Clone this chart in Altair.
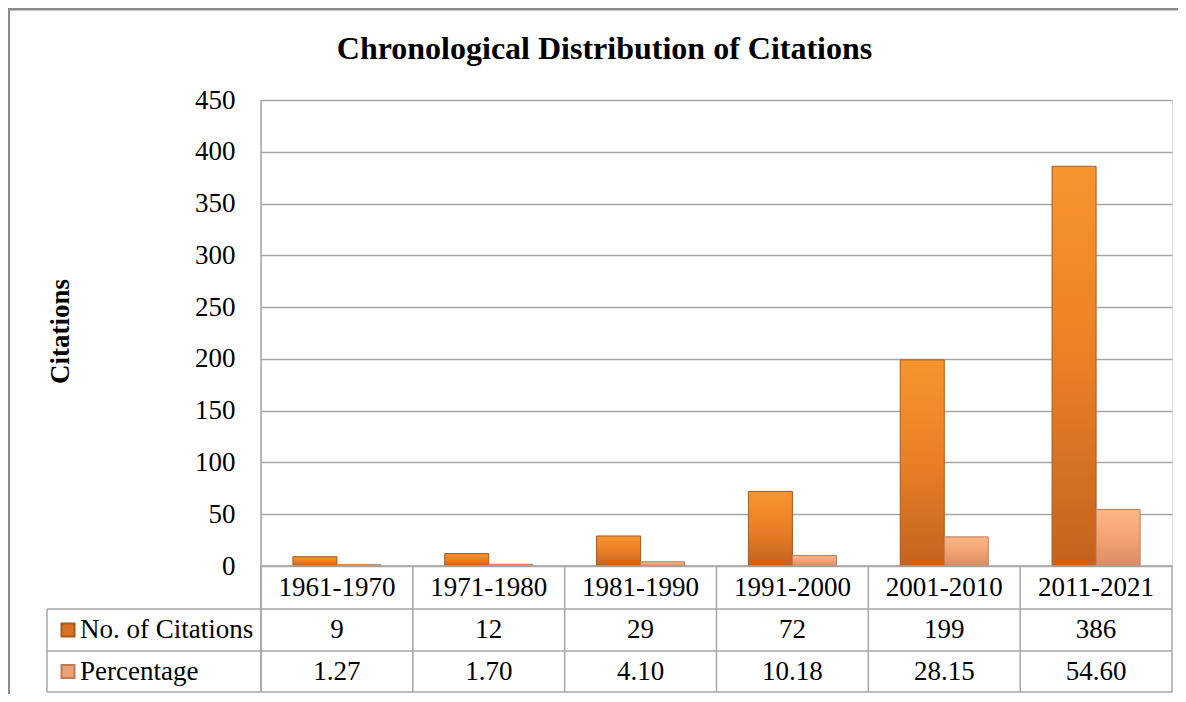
import altair as alt
import pandas as pd

categories = ["1961-1970", "1971-1980", "1981-1990", "1991-2000", "2001-2010", "2011-2021"]
citations = [9, 12, 29, 72, 199, 386]
percentages = [1.27, 1.70, 4.10, 10.18, 28.15, 54.60]
series_names = ["No. of Citations", "Percentage"]
y_ticks = [0, 50, 100, 150, 200, 250, 300, 350, 400, 450]
title_text = "Chronological Distribution of Citations"
y_title = "Citations"

rows = []
for c, n, p in zip(categories, citations, percentages):
    rows.append({"period": c, "series": series_names[0], "value": n, "label": f"{n}"})
    rows.append({"period": c, "series": series_names[1], "value": p, "label": f"{p:.2f}"})
df = pd.DataFrame(rows)

W, H = 911, 466
FONT = "Liberation Serif"
GRID = "#A6A6A6"
ROW1_Y, ROW2_Y, ROW3_Y = 487.5, 530, 571.5
LINE_Y = [466, 509, 551, 592]

x_scale = alt.Scale(domain=categories, paddingInner=0, paddingOuter=0)
off_scale = alt.Scale(domain=series_names, paddingInner=0, paddingOuter=0.725)
y_scale = alt.Scale(domain=[0, 450], nice=False)

one = alt.Data(values=[{"k": 0}])
base = alt.Chart(df)

x_enc = alt.X("period:N", scale=x_scale, axis=None, sort=categories)
y_enc = alt.Y(
    "value:Q", scale=y_scale,
    axis=alt.Axis(values=y_ticks, title=y_title, grid=True, gridColor=GRID, gridWidth=1.5,
                  ticks=False, domain=False, labelFont=FONT, labelFontSize=27,
                  labelColor="black", labelPadding=26, titleFont=FONT, titleFontSize=27,
                  titleFontWeight="bold", titleColor="black", titleX=-201, titleY=231,
                  titleAlign="center", titleBaseline="middle", titleAngle=270),
)

orange_grad = alt.Gradient(
    gradient="linear",
    stops=[alt.GradientStop(color="#F8952F", offset=0),
           alt.GradientStop(color="#E97F26", offset=0.5),
           alt.GradientStop(color="#C4621E", offset=1)],
    x1=0, x2=0, y1=0, y2=1)
peach_grad = alt.Gradient(
    gradient="linear",
    stops=[alt.GradientStop(color="#FDB584", offset=0),
           alt.GradientStop(color="#F4A373", offset=0.5),
           alt.GradientStop(color="#D88D63", offset=1)],
    x1=0, x2=0, y1=0, y2=1)

bars_c = base.transform_filter(alt.datum.series == series_names[0]).mark_bar(
    fill=orange_grad, stroke="#A9581B", strokeWidth=1).encode(
    x=x_enc, xOffset=alt.XOffset("series:N", scale=off_scale), y=y_enc)
bars_p = base.transform_filter(alt.datum.series == series_names[1]).mark_bar(
    fill=peach_grad, stroke="#C07A55", strokeWidth=1).encode(
    x=x_enc, xOffset=alt.XOffset("series:N", scale=off_scale), y=alt.Y("value:Q", scale=y_scale))

header = base.transform_filter(alt.datum.series == series_names[0]).mark_text(
    font=FONT, fontSize=27, baseline="middle", color="black").encode(
    x=x_enc, y=alt.value(ROW1_Y), text="period:N")
vals_c = base.transform_filter(alt.datum.series == series_names[0]).mark_text(
    font=FONT, fontSize=27, baseline="middle", color="black").encode(
    x=x_enc, y=alt.value(ROW2_Y), text="label:N")
vals_p = base.transform_filter(alt.datum.series == series_names[1]).mark_text(
    font=FONT, fontSize=27, baseline="middle", color="black").encode(
    x=x_enc, y=alt.value(ROW3_Y), text="label:N")

lab_c = alt.Chart(one).mark_text(text=series_names[0], font=FONT, fontSize=27, align="left",
                                 baseline="middle", color="black").encode(
    x=alt.value(-181), y=alt.value(ROW2_Y))
lab_p = alt.Chart(one).mark_text(text=series_names[1], font=FONT, fontSize=27, align="left",
                                 baseline="middle", color="black").encode(
    x=alt.value(-181), y=alt.value(ROW3_Y))
key_c = alt.Chart(one).mark_square(size=169, fill="#D9731F", stroke="#A9581B", opacity=1).encode(
    x=alt.value(-193), y=alt.value(ROW2_Y))
key_p = alt.Chart(one).mark_square(size=169, fill="#EBA07A", stroke="#C07A55", opacity=1).encode(
    x=alt.value(-193), y=alt.value(ROW3_Y))

vlines = base.transform_filter(alt.datum.series == series_names[0]).mark_rule(
    color=GRID, strokeWidth=1.5).encode(
    x=alt.X("period:N", scale=x_scale, axis=None, bandPosition=0),
    y=alt.value(LINE_Y[0]), y2=alt.value(LINE_Y[3]))
right_line = alt.Chart(one).mark_rule(color=GRID, strokeWidth=1.5).encode(
    x=alt.value(W), y=alt.value(LINE_Y[0]), y2=alt.value(LINE_Y[3]))
left_axis = alt.Chart(one).mark_rule(color=GRID, strokeWidth=1.5).encode(
    x=alt.value(0), y=alt.value(0), y2=alt.value(LINE_Y[3]))
label_left = alt.Chart(one).mark_rule(color=GRID, strokeWidth=1.5).encode(
    x=alt.value(-214), y=alt.value(LINE_Y[1]), y2=alt.value(LINE_Y[3]))
hlines = [alt.Chart(one).mark_rule(color=GRID, strokeWidth=1.5).encode(
    x=alt.value(-214), x2=alt.value(W), y=alt.value(yy)) for yy in LINE_Y[1:]]
top_line = alt.Chart(one).mark_rule(color=GRID, strokeWidth=1.5).encode(
    x=alt.value(0), x2=alt.value(W), y=alt.value(LINE_Y[0]))

frame_top = alt.Chart(one).mark_rule(color="#8C8C8C", strokeWidth=3).encode(
    x=alt.value(-253), x2=alt.value(920), y=alt.value(-91))
frame_left = alt.Chart(one).mark_rule(color="#8C8C8C", strokeWidth=2).encode(
    x=alt.value(-252), y=alt.value(-91), y2=alt.value(600))

title = alt.Chart(one).mark_text(text=title_text, font=FONT, fontSize=32, fontWeight="bold",
                                 align="center", baseline="alphabetic", color="black").encode(
    x=alt.value(343.5), y=alt.value(-41))

chart = alt.layer(
    bars_c, bars_p, vlines, right_line, left_axis, label_left, *hlines, top_line,
    header, vals_c, vals_p, lab_c, lab_p, key_c, key_p, frame_top, frame_left, title,
).properties(
    width=W, height=H,
    autosize=alt.AutoSizeParams(type="none"),
    padding={"left": 253, "top": 92, "right": 6, "bottom": 128},
).configure_view(stroke=None).configure(background="white")

chart.save("out.html", embed_options={"renderer": "svg", "actions": False})
